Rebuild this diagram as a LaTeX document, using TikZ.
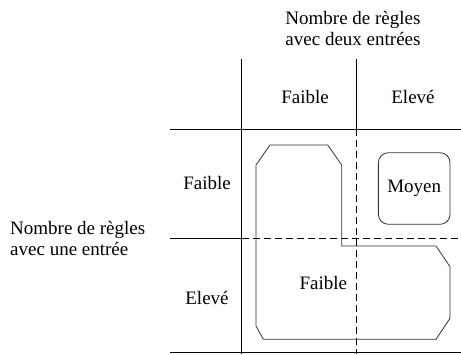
\documentclass[tikz,border=0pt]{standalone}
\usepackage{fontspec}
\setmainfont{Liberation Serif}
\usetikzlibrary{positioning}

\begin{document}
\begin{tikzpicture}[x=1pt,y=-1pt]
\tikzset{
  gridline/.style={line width=0.9pt},
  gridhalf/.style={line width=0.9pt, dash pattern=on 7pt off 4pt},
  zone/.style={line width=0.8pt, draw=black!80},
  label/.style={font=\fontsize{19}{21}\selectfont, inner sep=0pt, align=center}
}
\useasboundingbox (0,0) rectangle (461,354);

% grid
\coordinate (V1t) at (241.7,59);
\coordinate (V1b) at (241.7,354);
\coordinate (V2t) at (356.7,59);
\coordinate (V2m) at (356.7,129);
\coordinate (V2b) at (356.7,354);
\coordinate (H1l) at (170,129);
\coordinate (H1r) at (461,129);
\coordinate (H2l) at (170,238);
\coordinate (H2m) at (241.7,238);
\coordinate (H2r) at (461,238);
\coordinate (H3l) at (170,352.7);
\coordinate (H3r) at (461,352.7);

\draw[gridline] (V1t) -- (V1b);
\draw[gridline] (V2t) -- (V2m);
\draw[gridhalf] (V2m) -- (V2b);
\draw[gridline] (H1l) -- (H1r);
\draw[gridline] (H2l) -- (H2m);
\draw[gridhalf] (H2m) -- (H2r);
\draw[gridline] (H3l) -- (H3r);

% headings
\node[label] (colhead) at (353,28) {Nombre de règles\\avec deux entrées};
\node[label] (colF) at (305,97) {Faible};
\node[label] (colE) at (413,97) {Elevé};
\node[label, align=left, anchor=west] (rowhead) at (10,238) {Nombre de règles\\avec une entrée};
\node[label] (rowF) at (207,183) {Faible};
\node[label] (rowE) at (207,298) {Elevé};

% zones
\coordinate (F1) at (270,145);
\coordinate (F2) at (327.7,145);
\coordinate (F3) at (341.7,165);
\coordinate (F4) at (341.7,246);
\coordinate (F5) at (436,246);
\coordinate (F6) at (450,266.7);
\coordinate (F7) at (450,318.3);
\coordinate (F8) at (436,339.3);
\coordinate (F9) at (263.3,339.3);
\coordinate (F10) at (256,326);
\coordinate (F11) at (256,165);
\draw[zone] (F1) -- (F2) -- (F3) -- (F4) -- (F5) -- (F6) -- (F7) -- (F8) -- (F9) -- (F10) -- (F11) -- cycle;
\node[label] (faible) at (323.3,283.3) {Faible};

\node[label, zone, rounded corners=10pt, minimum width=71.7pt, minimum height=71.6pt] (moyen) at (414.2,188.5) {Moyen};

\end{tikzpicture}
\end{document}
